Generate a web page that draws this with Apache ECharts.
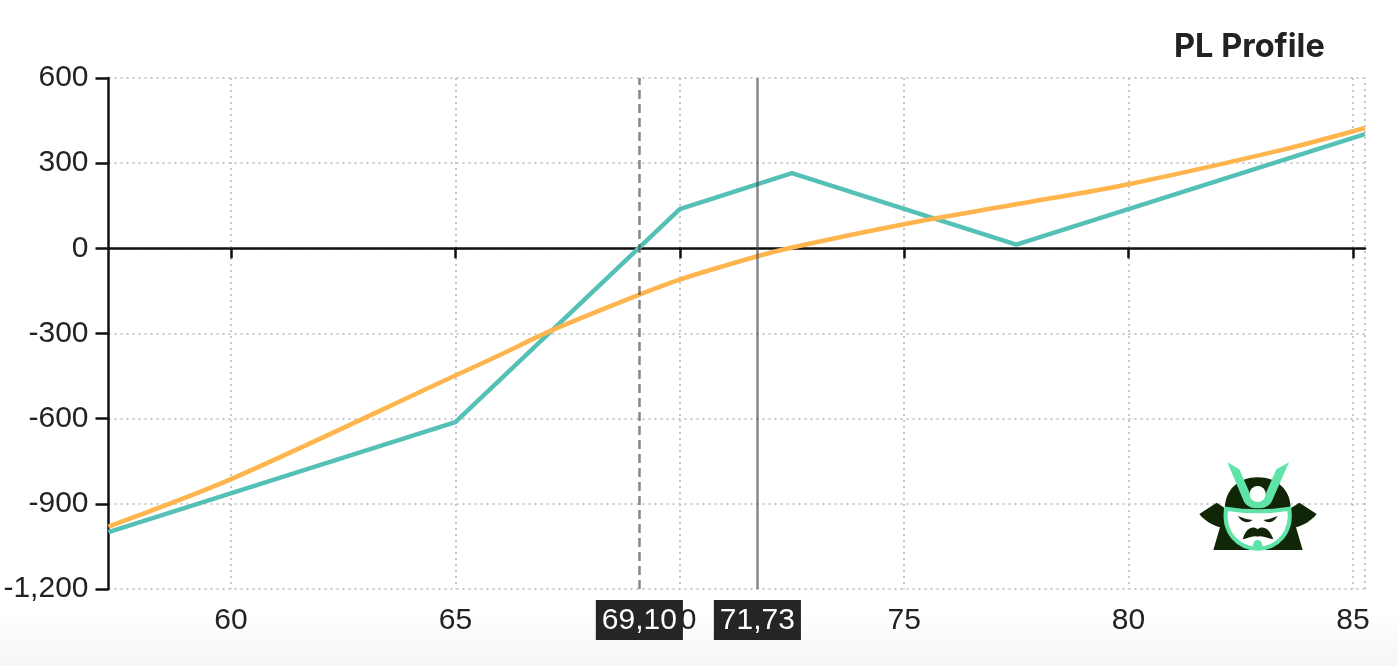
<!DOCTYPE html>
<html>
<head>
<meta charset="utf-8">
<title>PL Profile</title>
<script src="https://cdn.jsdelivr.net/npm/echarts@6/dist/echarts.min.js"></script>
<style>
  html, body { margin: 0; padding: 0; width: 100%; height: 100%; overflow: hidden; }
  body { background: linear-gradient(to bottom, #fff 0, #fff 610px, #f6f6f6 666px); }
  #main { width: 1398px; height: 666px; }
</style>
</head>
<body>
<div id="main"></div>
<script>
// 数据
const xMin = 57.27
const xMax = 85.27
const xTicks = [60, 65, 70, 75, 80, 85]

const tealX = [57.27, 65, 70, 72.5, 77.5, 85.27]
const tealY = [-1000, -612, 138, 265, 13, 402]

const orangeX = [57.27, 60, 65, 66, 67.13, 69.1, 70, 71.73, 72.5, 75, 77.5, 80, 83.4, 85.27]
const orangeY = [-980, -813, -448, -375, -290, -163, -110, -28, 3, 85, 155, 226, 346, 424]

const breakEven = 69.1
const breakEvenLabel = '69,10'
const spot = 71.73
const spotLabel = '71,73'

const pairs = (xs, ys) => xs.map((x, i) => [x, ys[i]])
const fontFamily = '"Liberation Sans", Arial, sans-serif'
const green = '#5fe3a8'
const dark = '#112606'
const gridLine = { type: [2, 4], color: '#c8c8c8', width: 2 }
const axisStroke = { color: '#111', width: 2.5 }
const tagLabel = text => ({
  formatter: text,
  position: 'start',
  distance: 11,
  color: '#fff',
  fontFamily,
  fontSize: 30,
  backgroundColor: '#252525',
  padding: [6, 6, 4, 6]
})

// 武士头盔图标（坐标按 3 倍放大后描的）
const logoPaths = {
  logoBody: 'M88 222 L140 188 L165 205 C165 150 205 112 263 112 C322 112 362 150 362 205 L388 188 L440 222 C425 242 400 256 378 262 L398 330 L130 330 L150 262 C128 256 103 242 88 222 Z',
  logoFace: 'M168 206 Q263 222 358 206 C368 280 320 326 263 326 C206 326 158 280 168 206 Z',
  logoEyeL: 'M203 228 Q226 238 248 240 Q224 258 203 228 Z',
  logoEyeR: 'M323 228 Q300 238 280 240 Q304 258 323 228 Z',
  logoMoustache: 'M218 298 C228 262 250 256 263 268 C276 256 298 262 310 298 C292 296 280 286 263 290 C246 286 234 296 218 298 Z',
  logoChin: 'M249 328 C246 310 254 300 263 300 C272 300 280 310 277 328 Z',
  logoHorn: 'M172 67 L208 88 L243 168 C248 182 278 182 284 168 L319 88 L357 67 L305 185 C296 200 280 205 263 205 C246 205 232 200 222 185 Z'
}
Object.keys(logoPaths).forEach(name => {
  echarts.graphic.registerShape(name, echarts.graphic.extendPath(logoPaths[name], {}))
})

const logo = {
  type: 'group',
  x: 1170,
  y: 440,
  scaleX: 1 / 3,
  scaleY: 1 / 3,
  silent: true,
  children: [
    { type: 'logoBody', z: 10, style: { fill: dark } },
    { type: 'logoFace', z: 10, style: { fill: '#fff', stroke: green, lineWidth: 12 } },
    { type: 'logoEyeL', z: 10, style: { fill: dark } },
    { type: 'logoEyeR', z: 10, style: { fill: dark } },
    { type: 'logoMoustache', z: 10, style: { fill: dark } },
    { type: 'logoChin', z: 10, style: { fill: green } },
    { type: 'logoHorn', z: 10, style: { fill: green } },
    { type: 'circle', z: 10, shape: { cx: 263, cy: 162, r: 24 }, style: { fill: '#fff' } }
  ]
}

const myChart = echarts.init(document.getElementById('main'))

myChart.setOption({
  backgroundColor: 'transparent',
  animation: false,
  title: {
    text: 'PL Profile',
    left: 1169,
    top: 26,
    textStyle: { fontFamily: 'Inter, sans-serif', fontSize: 32.5, fontWeight: 700, color: '#222' }
  },
  grid: { left: 108.5, right: 33, top: 78, bottom: 77, outerBoundsMode: 'none' },
  xAxis: {
    type: 'value',
    min: xMin,
    max: xMax,
    axisLine: { onZero: true, lineStyle: axisStroke },
    axisTick: { length: 10, customValues: xTicks, lineStyle: axisStroke },
    axisLabel: {
      customValues: xTicks,
      margin: 17,
      color: '#222',
      fontFamily,
      fontSize: 30
    },
    splitLine: { show: true, lineStyle: gridLine }
  },
  yAxis: {
    type: 'value',
    min: -1200,
    max: 600,
    interval: 300,
    axisLine: { show: true, onZero: false, lineStyle: axisStroke },
    axisTick: { show: true, length: 13, lineStyle: axisStroke },
    axisLabel: {
      margin: 20,
      color: '#222',
      fontFamily,
      fontSize: 30,
      formatter: value => value.toLocaleString('en-US')
    },
    splitLine: { show: true, lineStyle: gridLine }
  },
  series: [{
    name: 'Expiry',
    type: 'line',
    data: pairs(tealX, tealY),
    showSymbol: false,
    lineStyle: { color: '#55c0b5', width: 4.5 }
  }, {
    name: 'Today',
    type: 'line',
    data: pairs(orangeX, orangeY),
    smooth: 0.3,
    showSymbol: false,
    lineStyle: { color: '#ffb54d', width: 4.5 },
    markLine: {
      silent: true,
      symbol: 'none',
      animation: false,
      data: [
        { xAxis: xMax, label: { show: false }, lineStyle: gridLine },
        { xAxis: breakEven, label: tagLabel(breakEvenLabel), lineStyle: { type: [9, 5], color: 'rgba(70,70,70,0.65)', width: 2.5 } },
        { xAxis: spot, label: tagLabel(spotLabel), lineStyle: { type: 'solid', color: 'rgba(70,70,70,0.65)', width: 2.5 } }
      ]
    }
  }],
  graphic: [logo]
})
</script>
</body>
</html>
